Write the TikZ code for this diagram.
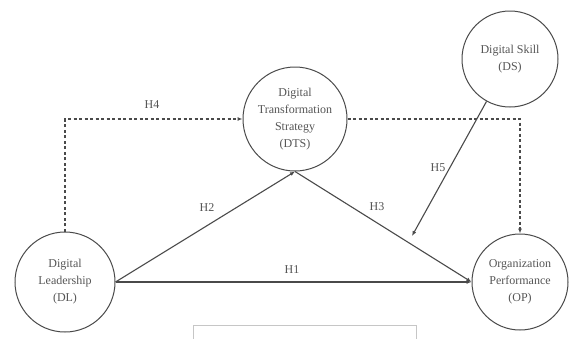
\documentclass[tikz,border=0pt]{standalone}
\usepackage{fontspec}
\setmainfont{Liberation Serif}
\usetikzlibrary{arrows.meta}
\definecolor{inkgray}{HTML}{4A4A4A}
\definecolor{txtgray}{HTML}{555555}
\tikzset{
  var/.style={circle, draw=inkgray, line width=1pt, align=center, text=txtgray, font=\fontsize{12}{17}\selectfont, inner sep=0pt},
  path/.style={draw=inkgray, line width=1.1pt, -{Latex[length=5pt,width=4pt]}},
  mpath/.style={path, dash pattern=on 3pt off 2.5pt},
  hlab/.style={text=txtgray, font=\fontsize{12}{14}\selectfont}
}
\begin{document}
\begin{tikzpicture}[x=1pt,y=-1pt]
    \useasboundingbox (0,0) rectangle (569,338);
    \node[var, minimum size=100pt] (dl) at (65,282) {Digital\\Leadership\\(DL)};
    \node[var, minimum size=104pt] (dts) at (295,119) {Digital\\Transformation\\Strategy\\(DTS)};
    \node[var, minimum size=96pt] (ds) at (510,59) {Digital Skill\\(DS)};
    \node[var, minimum size=96pt] (op) at (520,282) {Organization\\Performance\\(OP)};
    \coordinate (mod) at (412,236);
    \draw[path] (dl.east) -- (op.west);
    \draw[path] (dl.east) -- (dts.south);
    \draw[path] (dts.south) -- (op.west);
    \draw[mpath] (dl.north) |- (dts.west);
    \draw[mpath] (dts.east) -| (op.north);
    \draw[path] (ds) -- (mod);
    \node[hlab] (h1) at (292,270) {H1};
    \node[hlab] (h2) at (207,208) {H2};
    \node[hlab] (h3) at (377,207) {H3};
    \node[hlab] (h4) at (152,105) {H4};
    \node[hlab] (h5) at (438,168) {H5};
    \draw[gray!45, line width=0.8pt] (193,340) |- (416,325) -- (416,340);
  \end{tikzpicture}
\end{document}
